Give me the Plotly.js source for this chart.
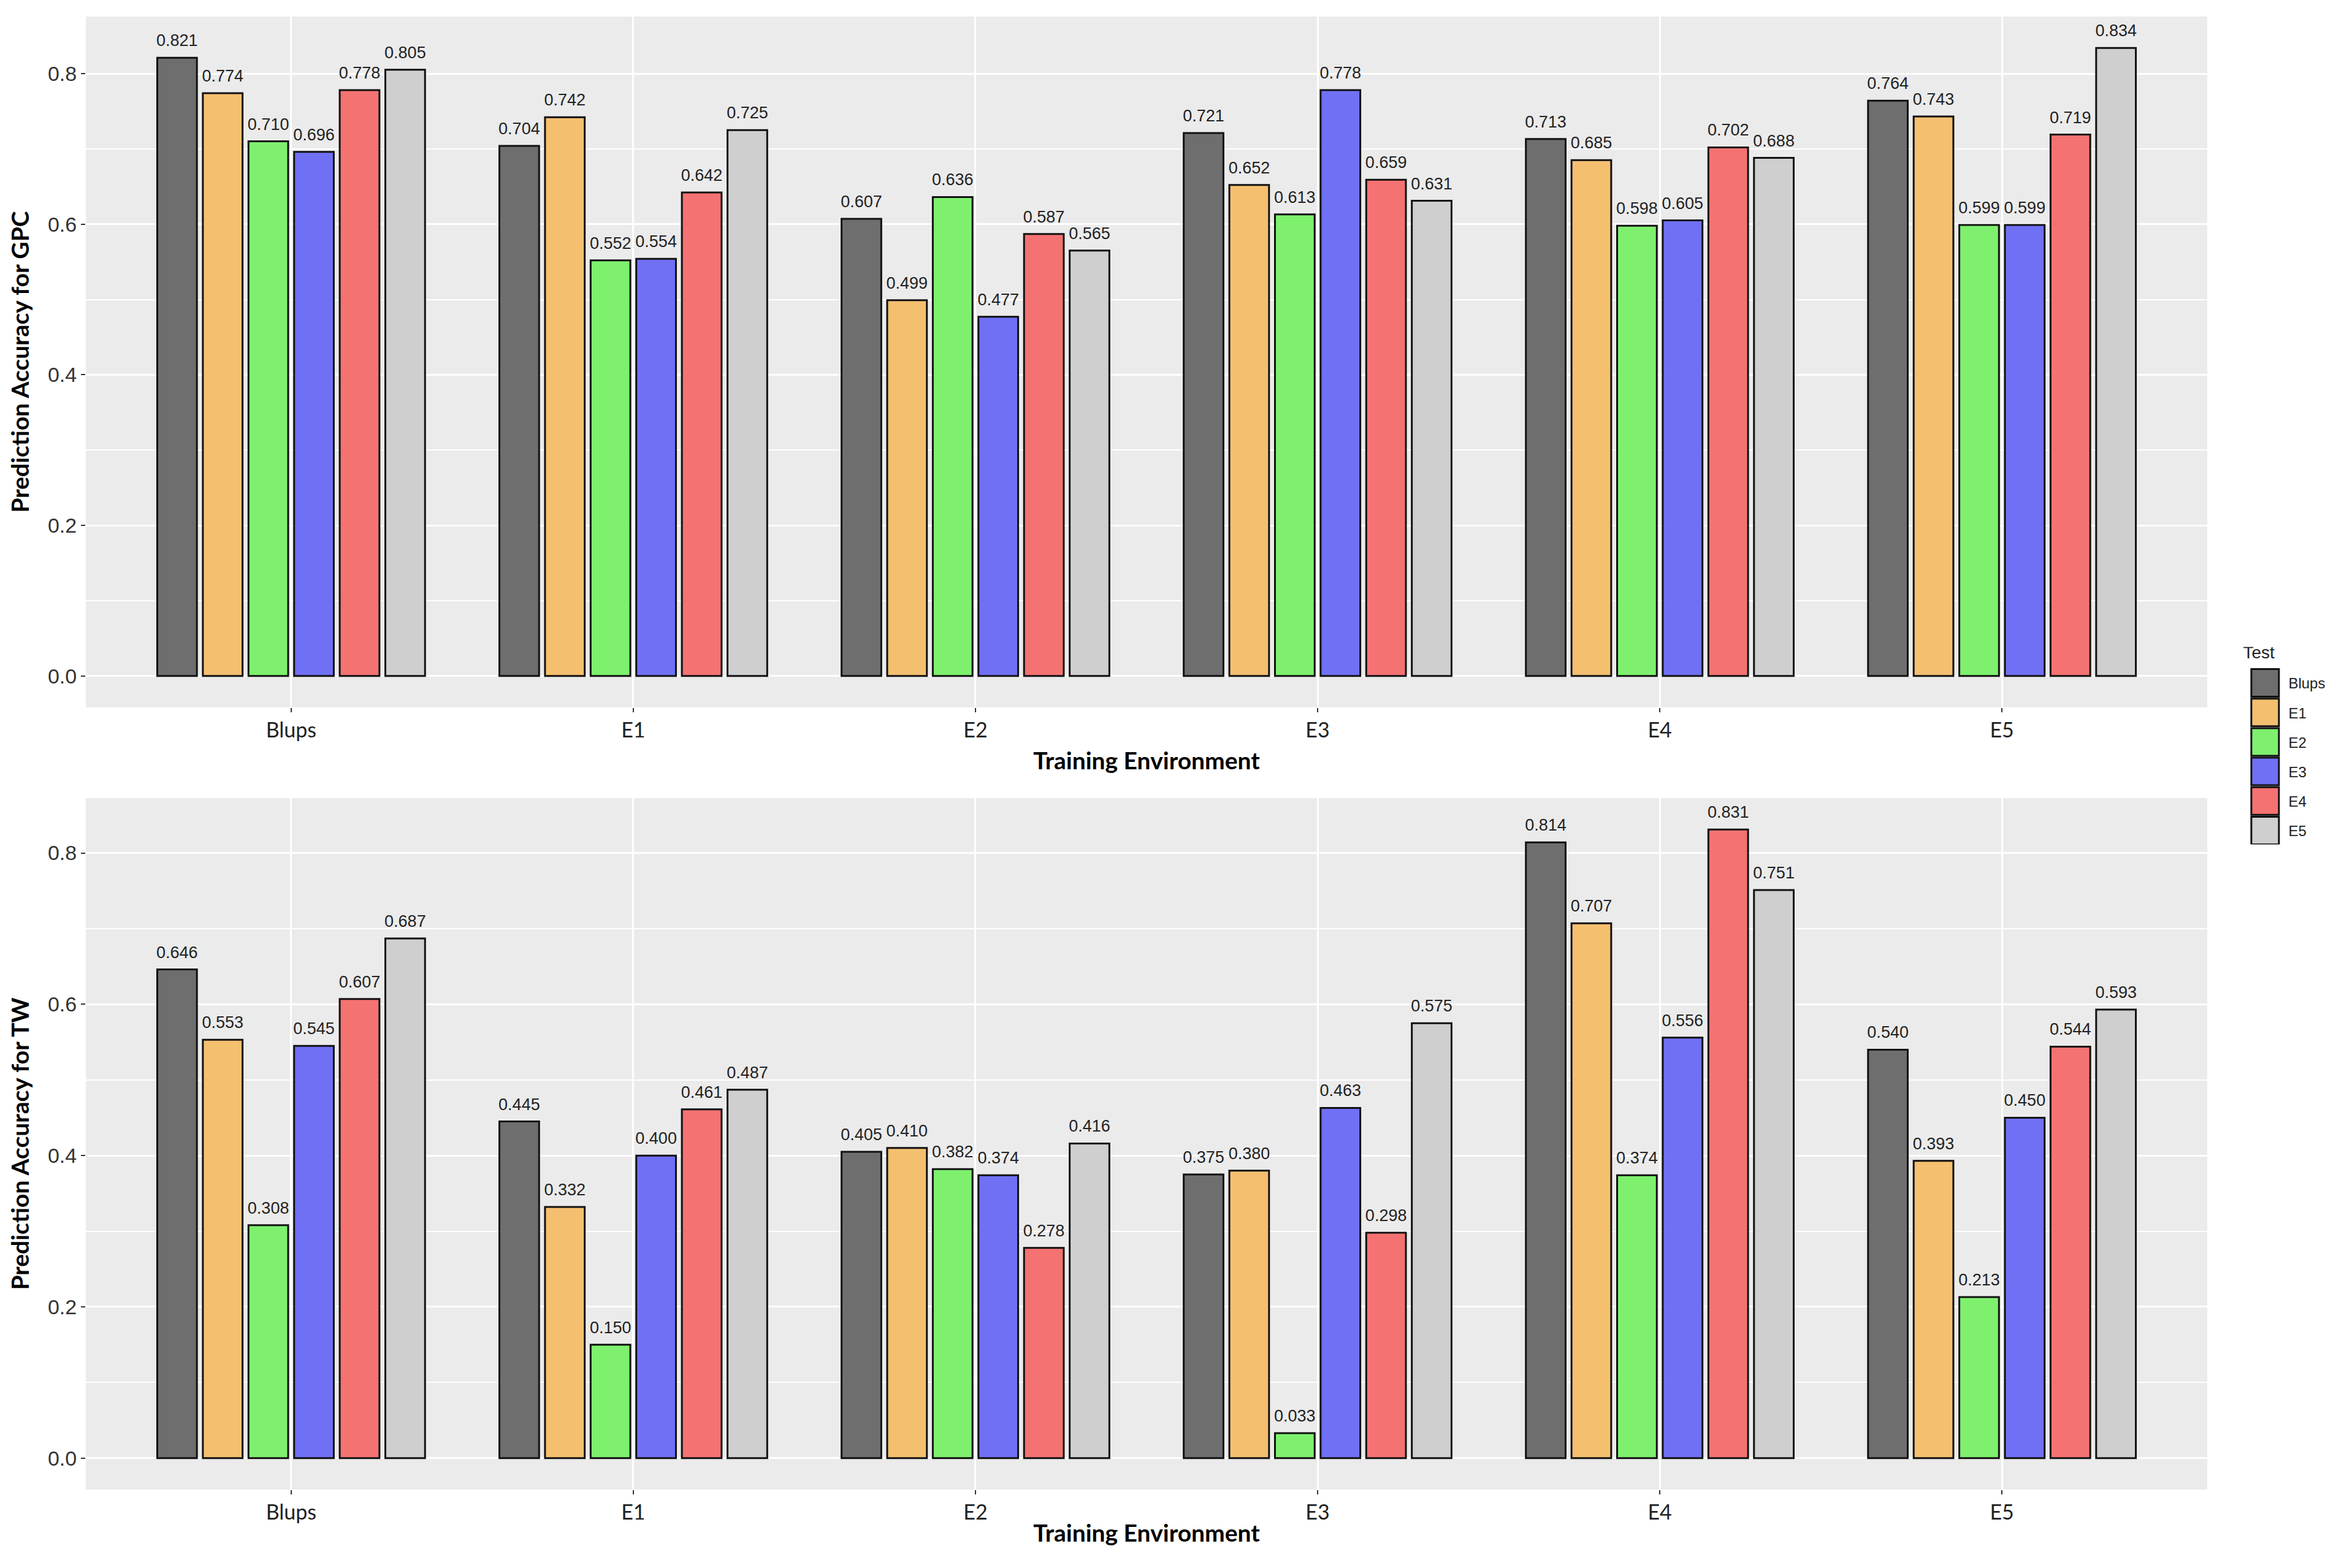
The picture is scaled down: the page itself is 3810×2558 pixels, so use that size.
<!DOCTYPE html>
<html>
<head>
<meta charset="utf-8">
<script src="https://cdn.plot.ly/plotly-3.0.1.min.js"></script>
<style>html,body{margin:0;padding:0;background:#fff;}#chart{width:3810px;height:2558px;}</style>
</head>
<body>
<div id="chart"></div>
<script>
// Training environments (x categories)
const trainingEnvs = ['Blups', 'E1', 'E2', 'E3', 'E4', 'E5'];
// Test series (legend)
const testNames = ['Blups', 'E1', 'E2', 'E3', 'E4', 'E5'];
const testColors = ['#6e6e6e', '#f5bf70', '#7ef06e', '#7070f5', '#f57272', '#cfcfcf'];

// Prediction accuracy for GPC, one array per test series (values over training envs)
const gpcBlups = [0.821, 0.704, 0.607, 0.721, 0.713, 0.764];
const gpcE1    = [0.774, 0.742, 0.499, 0.652, 0.685, 0.743];
const gpcE2    = [0.710, 0.552, 0.636, 0.613, 0.598, 0.599];
const gpcE3    = [0.696, 0.554, 0.477, 0.778, 0.605, 0.599];
const gpcE4    = [0.778, 0.642, 0.587, 0.659, 0.702, 0.719];
const gpcE5    = [0.805, 0.725, 0.565, 0.631, 0.688, 0.834];

// Prediction accuracy for TW
const twBlups = [0.646, 0.445, 0.405, 0.375, 0.814, 0.540];
const twE1    = [0.553, 0.332, 0.410, 0.380, 0.707, 0.393];
const twE2    = [0.308, 0.150, 0.382, 0.033, 0.374, 0.213];
const twE3    = [0.545, 0.400, 0.374, 0.463, 0.556, 0.450];
const twE4    = [0.607, 0.461, 0.278, 0.298, 0.831, 0.544];
const twE5    = [0.687, 0.487, 0.416, 0.575, 0.751, 0.593];

const yTickVals = [0.0, 0.2, 0.4, 0.6, 0.8];
const yTickText = ['0.0', '0.2', '0.4', '0.6', '0.8'];

const gpcSeries = [gpcBlups, gpcE1, gpcE2, gpcE3, gpcE4, gpcE5];
const twSeries = [twBlups, twE1, twE2, twE3, twE4, twE5];

const traces = [];
function addTraces(series, xa, ya, showLegend) {
  series.forEach((vals, i) => {
    traces.push({
      type: 'bar',
      name: testNames[i],
      legendgroup: testNames[i],
      showlegend: showLegend,
      x: trainingEnvs,
      y: vals,
      xaxis: xa,
      yaxis: ya,
      marker: { color: testColors[i], line: { color: '#111', width: 3 } },
      texttemplate: '%{y:.3f}',
      textposition: 'outside',
      constraintext: 'none',
      cliponaxis: false,
      textfont: { family: 'Liberation Sans, Arial, sans-serif', size: 27, color: '#222222' },
      hoverinfo: 'x+y+name'
    });
  });
}
addTraces(gpcSeries, 'x', 'y', true);
addTraces(twSeries, 'x2', 'y2', false);

const xAxisBase = {
  type: 'category',
  range: [-0.6, 5.6],
  showgrid: true,
  gridcolor: '#ffffff',
  gridwidth: 3,
  zeroline: false,
  showline: false,
  ticks: 'outside',
  ticklen: 7,
  tickwidth: 2,
  tickcolor: '#333333',
  tickfont: { family: 'Lato, Carlito, sans-serif', size: 34, color: '#222222' }
};
const yAxisBase = {
  tickmode: 'array',
  tickvals: yTickVals,
  ticktext: yTickText,
  showgrid: true,
  gridcolor: '#ffffff',
  gridwidth: 3,
  minor: { tick0: 0.1, dtick: 0.2, showgrid: true, gridcolor: '#ffffff', gridwidth: 1.5, ticks: '' },
  zeroline: false,
  showline: false,
  ticks: 'outside',
  ticklen: 7,
  tickwidth: 2,
  tickcolor: '#333333',
  tickfont: { family: 'Liberation Sans, Arial, sans-serif', size: 34, color: '#333333' }
};
const titleFont = { family: 'Lato, Carlito, sans-serif', size: 39, color: '#000000', weight: 'bold' };

const layout = {
  width: 3810,
  height: 2558,
  margin: { l: 140, r: 210, t: 27, b: 128, pad: 0 },
  paper_bgcolor: '#ffffff',
  plot_bgcolor: '#ebebeb',
  barmode: 'group',
  bargap: 0.2,
  bargroupgap: 0.13,
  showlegend: true,
  legend: {
    x: 1.0163, y: 0.572, xanchor: 'left', yanchor: 'top',
    title: { text: 'Test', font: { family: 'Liberation Sans, Arial, sans-serif', size: 28, color: '#222222' } },
    font: { family: 'Liberation Sans, Arial, sans-serif', size: 24, color: '#222222' },
    itemwidth: 66,
    tracegroupgap: 14,
    bgcolor: 'rgba(0,0,0,0)'
  },
  xaxis: Object.assign({}, xAxisBase, {
    domain: [0, 1], anchor: 'y',
    title: { text: 'Training Environment', font: titleFont, standoff: 18 }
  }),
  yaxis: Object.assign({}, yAxisBase, {
    domain: [0.531, 1], anchor: 'x',
    range: [-0.0417, 0.8757],
    title: { text: 'Prediction Accuracy for GPC', font: titleFont, standoff: 18 }
  }),
  xaxis2: Object.assign({}, xAxisBase, {
    domain: [0, 1], anchor: 'y2',
    title: { text: 'Training Environment', font: titleFont, standoff: 2 }
  }),
  yaxis2: Object.assign({}, yAxisBase, {
    domain: [0, 0.4694], anchor: 'x2',
    range: [-0.04155, 0.87255],
    title: { text: 'Prediction Accuracy for TW', font: titleFont, standoff: 18 }
  })
};

Plotly.newPlot('chart', traces, layout, { displayModeBar: false, responsive: false }).then(gd => {
  // enlarge the legend keys to ggplot-style squares
  gd.querySelectorAll('.legend .legendpoints path').forEach(p => {
    const t = p.getAttribute('transform') || '';
    p.setAttribute('transform', t + ' scale(3.75)');
    p.style.vectorEffect = 'non-scaling-stroke';
    p.style.strokeWidth = '3px';
    p.style.stroke = '#111';
  });
  // give the legend title room above the enlarged keys
  gd.querySelectorAll('.legend .legendtitletext').forEach(el => {
    const t = el.getAttribute('transform') || '';
    el.setAttribute('transform', 'translate(0,-18) ' + t);
  });
  // lift value labels slightly above the bars (ggplot vjust spacing)
  gd.querySelectorAll('.bartext').forEach(el => {
    const t = el.getAttribute('transform') || '';
    el.setAttribute('transform', 'translate(0,-10) ' + t);
  });
});
</script>
</body>
</html>
